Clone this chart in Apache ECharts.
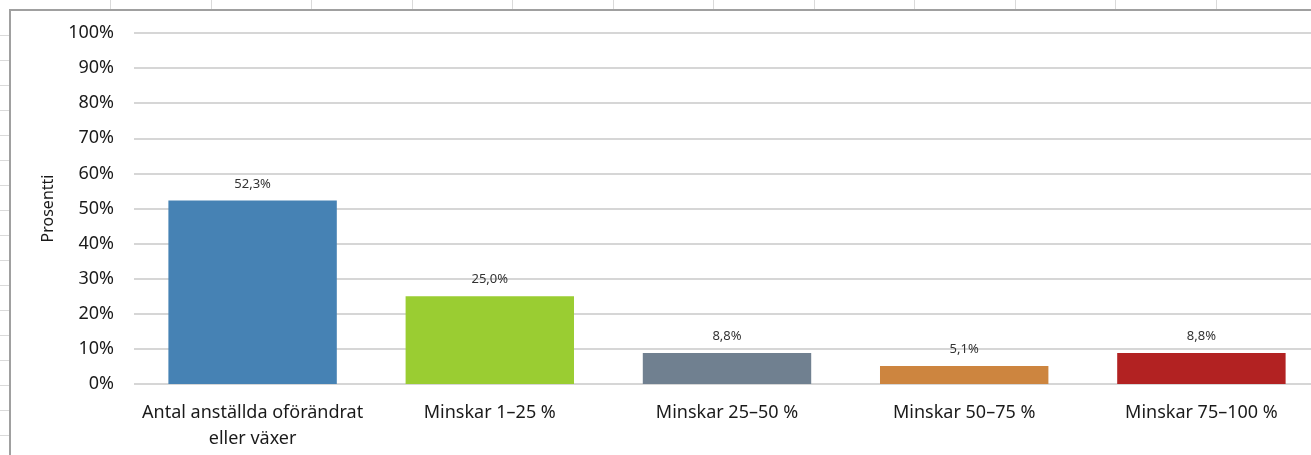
<!DOCTYPE html>
<html>
<head>
<meta charset="utf-8">
<script src="https://cdn.jsdelivr.net/npm/echarts@6/dist/echarts.min.js"></script>
<style>
  html, body { margin: 0; padding: 0; overflow: hidden; }
  body {
    width: 1311px; height: 455px; position: relative; background: #fff;
  }
  .cell-v { position: absolute; top: 0; width: 1px; height: 10px; background: #dadada; }
  .cell-h { position: absolute; left: 0; width: 9px; height: 1px; background: #dadada; }
  #frame {
    position: absolute; left: 9px; top: 9px; width: 1340px; height: 460px;
    background: #fff; border-left: 2px solid #a0a0a0; border-top: 2px solid #a0a0a0;
  }
  #chart { position: absolute; left: 0; top: 0; width: 1330px; height: 455px; }
</style>
</head>
<body>
<div id="frame"></div>
<div id="chart"></div>
<script>
// values
const categories = [
  'Antal anställda oförändrat\neller växer',
  'Minskar 1–25 %',
  'Minskar 25–50 %',
  'Minskar 50–75 %',
  'Minskar 75–100 %'
];
const values = [52.3, 25.0, 8.8, 5.1, 8.8];
const barColors = ['#4682b4', '#9acd32', '#708090', '#cd853f', '#b22222'];
const yTicks = { min: 0, max: 100, interval: 10 };
const yName = 'Prosentti';

const FONT = '"Noto Sans", sans-serif';

// spreadsheet grid peeking out around the chart frame
for (let i = 0; i < 12; i++) {
  const d = document.createElement('div');
  d.className = 'cell-v';
  d.style.left = Math.round(110 + i * 100.5) + 'px';
  document.body.prepend(d);
}
for (let y = 35; y < 455; y += 25) {
  const d = document.createElement('div');
  d.className = 'cell-h';
  d.style.top = y + 'px';
  document.body.prepend(d);
}

const chart = echarts.init(document.getElementById('chart'), null, { renderer: 'canvas' });
chart.setOption({
  backgroundColor: 'transparent',
  animation: false,
  grid: { left: 134, right: 10, top: 33, bottom: 71 },
  xAxis: {
    type: 'category',
    data: categories,
    axisLine: { show: false },
    axisTick: { show: false },
    axisLabel: { color: '#1a1a1a', fontFamily: FONT, fontSize: 18, margin: 16, lineHeight: 26, interval: 0 }
  },
  yAxis: {
    type: 'value',
    min: yTicks.min, max: yTicks.max, interval: yTicks.interval,
    name: yName,
    nameLocation: 'middle',
    nameGap: 78,
    nameTextStyle: { color: '#1a1a1a', fontFamily: FONT, fontSize: 16 },
    axisLine: { show: false },
    axisTick: { show: false },
    axisLabel: { color: '#1a1a1a', fontFamily: FONT, fontSize: 18, margin: 20, formatter: v => v + '%' },
    splitLine: { lineStyle: { color: '#d6d6d6', width: 2 } }
  },
  series: [{
    type: 'bar',
    data: values.map((v, i) => ({ value: v, itemStyle: { color: barColors[i] } })),
    barCategoryGap: '29%',
    label: {
      show: true, position: 'top', distance: 10,
      color: '#333', fontFamily: FONT, fontSize: 13,
      formatter: p => p.value.toFixed(1).replace('.', ',') + '%'
    }
  }]
});
</script>
</body>
</html>
